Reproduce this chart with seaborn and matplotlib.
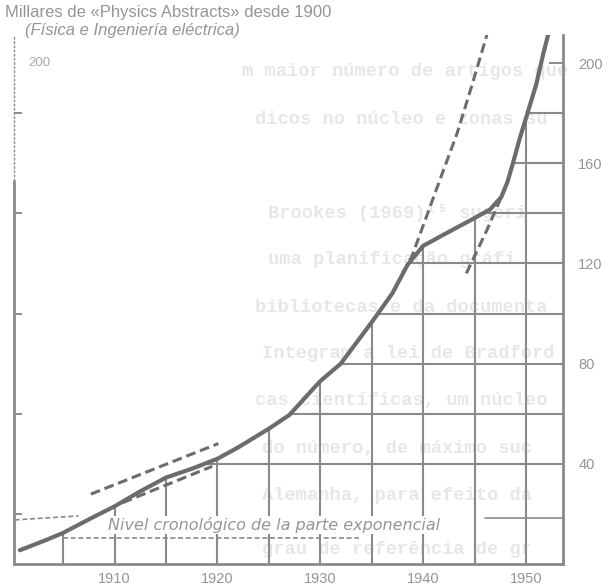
import numpy as np
import pandas as pd
import matplotlib
matplotlib.use("Agg")
import matplotlib.pyplot as plt
import seaborn as sns

# ---------------- data ----------------
anios = [1900.8, 1903, 1905, 1907.5, 1910, 1912.5, 1915, 1917.5, 1920, 1922,
         1925, 1927, 1930, 1932, 1935, 1937, 1938.5, 1940, 1942, 1944.5,
         1946.5, 1947.6, 1948.2, 1948.8, 1949.4, 1950, 1951, 1951.7, 1952.2]
miles = [5.5, 9.0, 12.4, 17.8, 23.0, 29.0, 34.5, 38.0, 42.0, 46.5,
         54.0, 59.5, 73.0, 80.0, 96.5, 108.0, 119.5, 127.0, 131.5, 137.0,
         141.5, 146.5, 152.5, 161.0, 170.0, 178.0, 191.5, 204.0, 212.0]

# dashed extrapolation lines
exp_alta_anios = [1938.0, 1938.9, 1941.6, 1943.3, 1944.7, 1946.2]
exp_alta_vals = [116.0, 122.7, 153.0, 171.9, 190.5, 211.2]
exp_tang_anios = [1944.2, 1946.2, 1947.9]
exp_tang_vals = [116.0, 133.3, 149.3]
ini_sup_anios = [1907.7, 1920.1]
ini_sup_vals = [27.9, 48.1]
ini_inf_anios = [1910.8, 1919.5]
ini_inf_vals = [24.5, 39.0]

# chronological level lines
nivel_anios = [1905.0, 1933.8]
nivel_vals = [10.4, 10.4]
nivel_izq_anios = [1900.3, 1906.5]
nivel_izq_vals = [17.6, 19.2]
nivel_der_anios = [1946.0, 1953.6]
nivel_der_vals = [18.4, 18.4]

# grid (drawn only below the curve)
grid_anios = [1905, 1910, 1915, 1920, 1925, 1930, 1935, 1940, 1945, 1950]
grid_niveles = [40, 60, 80, 100, 120, 140, 160, 180]

x_ticks = [1910, 1920, 1930, 1940, 1950]
x_labels = ["1910", "1920", "1930", "1940", "1950"]
y_ticks = [40, 80, 120, 160, 200]
y_labels = ["40", "80", "120", "160", "200"]
y_menores = [20, 40, 60, 80, 100, 120, 140, 160, 180, 200]

titulo1 = "Millares de «Physics Abstracts» desde 1900"
titulo2 = "(Física e Ingeniería eléctrica)"
etiqueta_nivel = "Nivel cronológico de la parte exponencial"

texto_fondo = [
    "m maior número de artigos que",
    "dicos no núcleo e zonas su",
    "Brookes (1969)¹⁵ sugeri",
    "uma planificação gráfi",
    "bibliotecas e da documenta",
    "Integram a lei de Bradford",
    "cas científicas, um núcleo",
    "do número, de máximo suc",
    "Alemanha, para efeito da",
    "grau de referência de gr",
]
texto_fondo_x = [242, 255, 268, 268, 255, 262, 255, 262, 262, 262]
texto_fondo_y = [72, 119, 213, 260, 307, 354, 401, 448, 495, 550]

# ---------------- style ----------------
sns.set_theme(style="white")
plt.rcParams["font.family"] = ["Liberation Sans", "DejaVu Sans"]

GRIS_CURVA = "#6c6c6c"
GRIS_RED = "#8a8a8a"
GRIS_TEXTO = "#959595"

fig = plt.figure(figsize=(6.1, 5.87), dpi=100)
fig.patch.set_facecolor("white")

# faint bleed-through text of the scanned page
for linea, x0, y0 in zip(texto_fondo, texto_fondo_x, texto_fondo_y):
    fig.text(x0 / 610, 1 - y0 / 587, linea,
             family=["Liberation Mono", "DejaVu Sans Mono"], weight="bold",
             size=13.5, color="#e7e7e7", va="center", ha="left", zorder=0)

ax = fig.add_axes([14 / 610, 23 / 587, (563 - 14) / 610, (564 - 35) / 587])
ax.set_facecolor("none")
ax.set_zorder(1)

ax.set_xlim(1900.23, 1953.6)
ax.set_ylim(0, 211.2)

# grid under the curve
tope_v = np.interp(grid_anios, anios, miles)
ax.vlines(grid_anios, 0, tope_v, color=GRIS_RED, lw=1.5, zorder=2)
inicio_h = np.interp(grid_niveles, miles, anios)
ax.hlines(grid_niveles, inicio_h, 1953.6, color=GRIS_RED, lw=1.5, zorder=2)

# label of the chronological level (white strip cuts the grid lines)
ax.text(1909.4, 15.6, etiqueta_nivel, ha="left", va="center",
        style="italic", size=11.5, family=["DejaVu Sans"], color=GRIS_TEXTO,
        zorder=3, bbox=dict(boxstyle="square,pad=0.08", fc="white", ec="none"))

# level lines
for xs, ys, estilo in [(nivel_anios, nivel_vals, (0, (3, 1.6))),
                       (nivel_izq_anios, nivel_izq_vals, (0, (3, 1.6))),
                       (nivel_der_anios, nivel_der_vals, "-")]:
    sns.lineplot(x=xs, y=ys, ax=ax, color=GRIS_RED, lw=1.2,
                 linestyle=estilo, zorder=3.5)

# dashed extrapolations
for xs, ys in [(exp_alta_anios, exp_alta_vals), (exp_tang_anios, exp_tang_vals),
               (ini_sup_anios, ini_sup_vals), (ini_inf_anios, ini_inf_vals)]:
    sns.lineplot(x=xs, y=ys, ax=ax, color=GRIS_CURVA, lw=2.2,
                 linestyle=(0, (3.2, 1.6)), zorder=4, clip_on=True)

# main curve
curva = pd.DataFrame({"anio": anios, "miles": miles})
sns.lineplot(data=curva, x="anio", y="miles", ax=ax, color=GRIS_CURVA,
             lw=3.0, sort=False, zorder=5, solid_capstyle="round",
             solid_joinstyle="round")

# axes / spines
for lado in ["top", "left"]:
    ax.spines[lado].set_visible(False)
for lado in ["right", "bottom"]:
    ax.spines[lado].set_color(GRIS_RED)
    ax.spines[lado].set_linewidth(2.0)
ytr = ax.get_yaxis_transform()
ax.plot([0, 0], [0, 153], transform=ytr, color=GRIS_RED, lw=2.0, clip_on=False)
ax.plot([0, 0], [153, 211.2], transform=ytr, color=GRIS_RED, lw=1.0,
        linestyle=(0, (2, 1)), clip_on=False)

ax.set_xticks(x_ticks)
ax.set_xticklabels(x_labels)
ax.tick_params(axis="x", length=0, pad=6, labelsize=10.5, labelcolor=GRIS_TEXTO)

ax.yaxis.tick_right()
ax.set_yticks(y_ticks)
ax.set_yticklabels(y_labels)
ax.set_yticks(y_menores, minor=True)
ax.tick_params(axis="y", which="major", direction="in", length=10, width=1.4,
               color=GRIS_RED, pad=11, labelsize=10.5, labelcolor=GRIS_TEXTO,
               right=True, left=False, labelright=True, labelleft=False)
ax.tick_params(axis="y", which="minor", direction="in", length=6, width=1.4,
               color=GRIS_RED, left=True, right=False)
ax.set_xlabel("")
ax.set_ylabel("")
ax.text(1901.6, 200, "200", ha="left", va="center", size=9.5, color="#a8a8a8")

fig.text(5 / 610, 1 - 13 / 587, titulo1, ha="left", va="center",
         size=12, color=GRIS_TEXTO)
fig.text(25 / 610, 1 - 30 / 587, titulo2, ha="left", va="center",
         size=12, style="italic", color=GRIS_TEXTO)

fig.savefig("out.png", dpi=100, facecolor="white")
